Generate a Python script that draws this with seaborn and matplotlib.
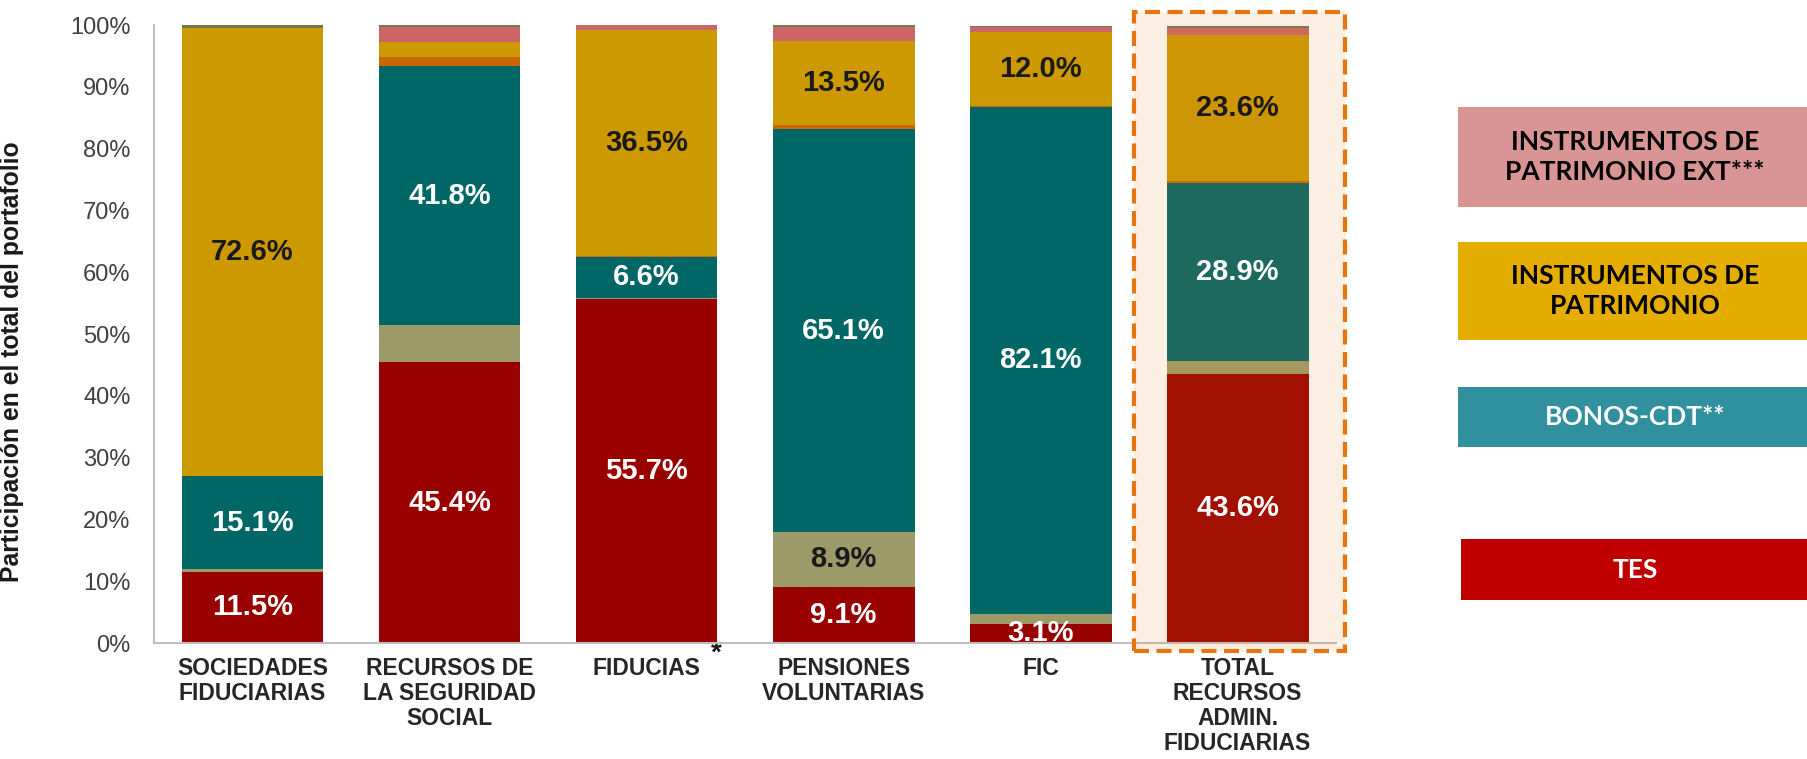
import numpy as np
import pandas as pd
import matplotlib.pyplot as plt
import seaborn as sns
from matplotlib.patches import Rectangle

# Participación (%) por tipo de instrumento, de abajo hacia arriba en cada barra
entidades = ['SOCIEDADES\nFIDUCIARIAS', 'RECURSOS DE\nLA SEGURIDAD\nSOCIAL', 'FIDUCIAS',
             'PENSIONES\nVOLUNTARIAS', 'FIC', 'TOTAL\nRECURSOS\nADMIN.\nFIDUCIARIAS']

tes = [11.5, 45.4, 55.7, 9.1, 3.1, 43.6]
otros_rf = [0.4, 6.1, 0.2, 8.9, 1.6, 2.0]
bonos_cdt = [15.1, 41.8, 6.6, 65.1, 82.1, 28.9]
otros_int = [0.0, 1.6, 0.2, 0.8, 0.1, 0.3]
patrimonio = [72.6, 2.4, 36.5, 13.5, 12.0, 23.6]
patrimonio_ext = [0.0, 2.4, 0.8, 2.3, 0.8, 1.2]
otros = [0.4, 0.3, 0.0, 0.3, 0.1, 0.2]

tipos = ['TES', 'OTROS RF', 'BONOS-CDT', 'OTROS INT', 'PATRIMONIO', 'PATRIMONIO EXT', 'OTROS']
valores = [tes, otros_rf, bonos_cdt, otros_int, patrimonio, patrimonio_ext, otros]

colores = {'TES': '#990000', 'OTROS RF': '#9c9a68', 'BONOS-CDT': '#006666',
           'OTROS INT': '#cc6600', 'PATRIMONIO': '#cc9900', 'PATRIMONIO EXT': '#cc6666',
           'OTROS': '#6f7a4a'}

# umbral para mostrar la etiqueta de cada segmento y color del texto
umbral = {'TES': 0, 'OTROS RF': 8, 'BONOS-CDT': 0, 'PATRIMONIO': 5}
color_txt = {'TES': 'white', 'OTROS RF': '#1a1a1a', 'BONOS-CDT': 'white', 'PATRIMONIO': '#1a1a1a'}

# Leyenda (cajas a la derecha)
leyenda_txt = ['INSTRUMENTOS DE\nPATRIMONIO EXT***', 'INSTRUMENTOS DE\nPATRIMONIO', 'BONOS-CDT**', 'TES']
leyenda_col = ['#d99594', '#e5ad00', '#31909d', '#c00000']
leyenda_txtcol = ['black', 'black', 'white', 'white']

df = pd.DataFrame([(e, t, v[i]) for t, v in zip(tipos, valores) for i, e in enumerate(entidades)],
                  columns=['entidad', 'tipo', 'valor'])

sns.set_style('white')
plt.rcParams['font.family'] = ['Liberation Sans', 'DejaVu Sans']

fig = plt.figure(figsize=(18.08, 7.59), dpi=100)
ax = fig.add_axes([0.0852, 0.1528, 0.6538, 0.8142])

base = np.zeros(len(entidades))
for t in tipos:
    sub = df[df['tipo'] == t]
    vals = sub.set_index('entidad').loc[entidades, 'valor'].values
    sns.barplot(data=sub, x='entidad', y='valor', order=entidades, bottom=base,
                color=colores[t], saturation=1, width=0.72, errorbar=None,
                linewidth=0, ax=ax, zorder=2)
    if t in umbral:
        for i, v in enumerate(vals):
            if v > umbral[t]:
                ax.text(i, base[i] + v / 2, f'{v:.1f}%', ha='center', va='center',
                        fontsize=21, fontweight='bold', color=color_txt[t], zorder=5)
    base = base + vals

# recuadro resaltando el total
idx_total = len(entidades) - 1
ax.add_patch(Rectangle((idx_total - 0.525, -1.3), 1.07, 103.4, facecolor=(0.886, 0.514, 0.149, 0.13),
                       edgecolor='#e8740f', linewidth=3, linestyle=(0, (3.6, 1.8)),
                       clip_on=False, zorder=4))

ax.text(2.355, -1.7, '*', ha='center', va='center', fontsize=20, fontweight='bold',
        color='#1a1a1a', clip_on=False)

ax.set_xlim(-0.5, 5.44)
ax.set_ylim(0, 100)
ax.set_yticks(range(0, 101, 10))
ax.set_yticklabels([f'{t}%' for t in range(0, 101, 10)])
ax.set_xticks(np.arange(-0.5, 5.6, 1), minor=True)
ax.tick_params(axis='x', which='major', length=0, pad=10, labelsize=16.5, labelcolor='#262626')
ax.tick_params(axis='x', which='minor', length=6, width=1.2, color='#bfbfbf', direction='out')
ax.tick_params(axis='y', length=5, width=1.2, color='#bfbfbf', direction='out', pad=12,
               labelsize=17, labelcolor='#404040')
for lab in ax.get_xticklabels():
    lab.set_fontweight('bold')
    lab.set_linespacing(1.12)
    lab.set_multialignment('center')

ax.set_xlabel('')
ax.set_ylabel('Participación en el total del portafolio', fontsize=17.8, fontweight='bold', color='#1a1a1a')
ax.yaxis.set_label_coords(-0.110, 0.456)

sns.despine(ax=ax)
for s in ['left', 'bottom']:
    ax.spines[s].set_color('#bfbfbf')
    ax.spines[s].set_linewidth(1.5)
    ax.spines[s].set_zorder(3)

# cajas de la leyenda
cajas = [(107, 207), (242, 340), (387, 447), (539, 600)]
x0s = [1458, 1458, 1458, 1461]
for (top, bot), x0, txt, col, tc in zip(cajas, x0s, leyenda_txt, leyenda_col, leyenda_txtcol):
    fig.add_artist(Rectangle((x0 / 1808, (759 - bot) / 759), 1.0, (bot - top) / 759,
                             transform=fig.transFigure, facecolor=col, edgecolor='none'))
    fig.text(1635 / 1808, (759 - (top + bot) / 2) / 759, txt, ha='center', va='center',
             fontsize=19, fontweight='bold', color=tc, family=['Lato', 'DejaVu Sans'],
             linespacing=1.25)

fig.savefig('out.png', dpi=100)
